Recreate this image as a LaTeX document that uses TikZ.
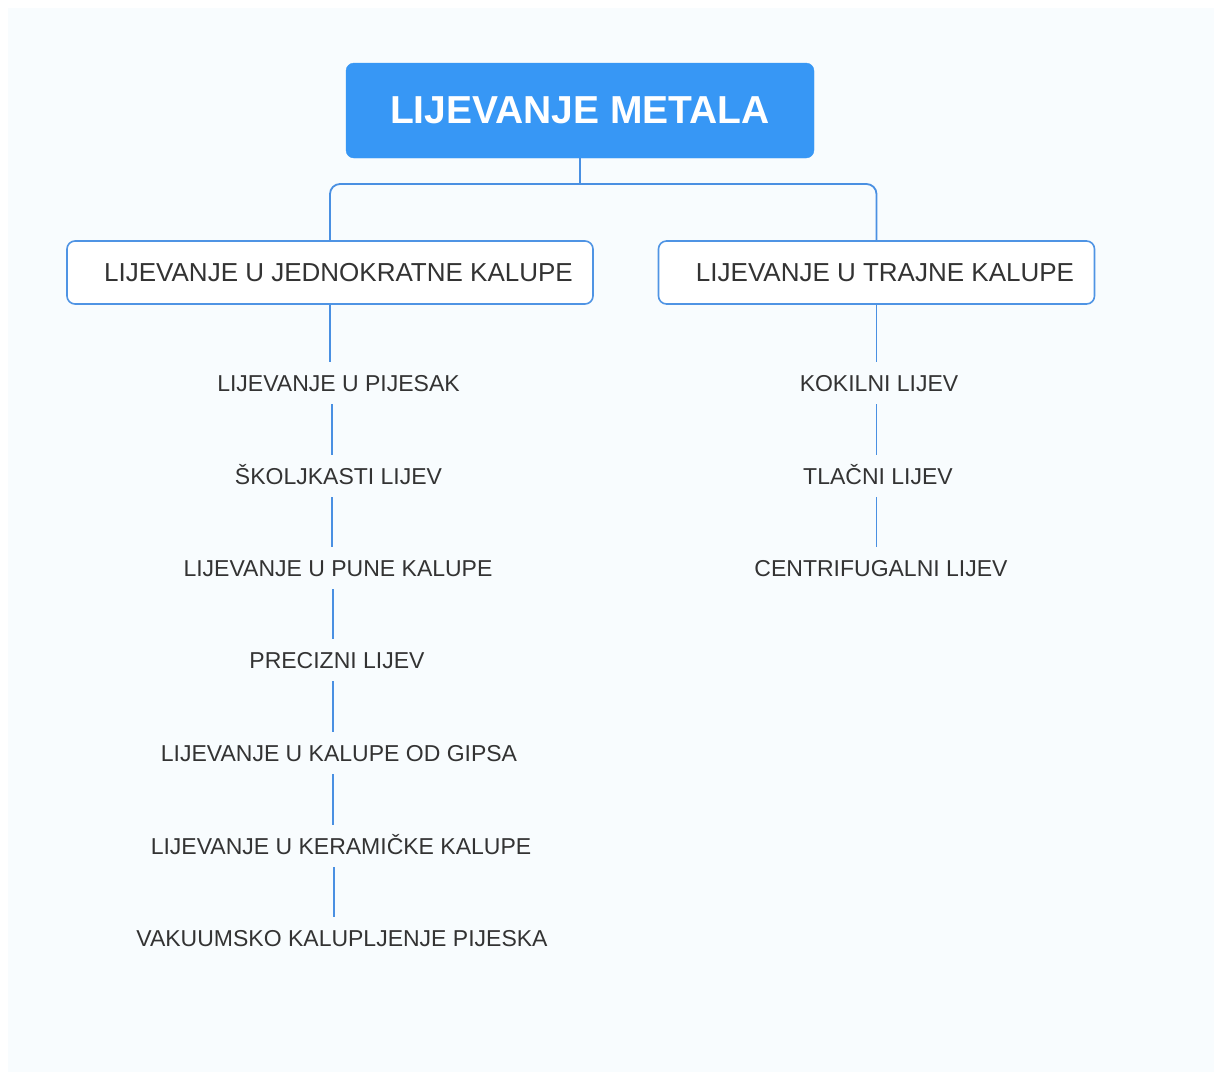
\documentclass[tikz,border=0pt]{standalone}
\usepackage{fontspec}
\setmainfont{Liberation Sans}
\definecolor{rootblue}{HTML}{3797F5}
\definecolor{edgeblue}{HTML}{4A90E2}
\definecolor{boxblue}{HTML}{4F94E4}
\definecolor{txt}{HTML}{333333}
\definecolor{panel}{HTML}{F8FCFE}
\begin{document}
\begin{tikzpicture}[x=1pt,y=-1pt,
  rootbox/.style={draw=rootblue, fill=rootblue, rounded corners=8pt, minimum width=468pt, minimum height=95pt,
     inner sep=0pt, text=white, font=\fontsize{39}{44}\selectfont\bfseries},
  catbox/.style={draw=boxblue, line width=1.6pt, fill=white, rounded corners=8pt, minimum height=63pt,
     inner sep=0pt, text=txt, font=\fontsize{26}{30}\selectfont},
  leaf/.style={text=txt, font=\fontsize{23}{27}\selectfont, text height=16.5pt, text depth=0pt, inner xsep=2pt, inner ysep=13pt},
  conn/.style={draw=edgeblue, line width=1.8pt}
]
\useasboundingbox (0,0) rectangle (1214,1072);
\fill[white] (0,0) rectangle (1214,1072);
\fill[panel] (8,8) rectangle (1214,1072);

\node[rootbox] (root) at (580,110.5) {LIJEVANJE METALA};
\node[catbox, minimum width=526pt] (L) at (330,272.5) {\hspace*{17pt}LIJEVANJE U JEDNOKRATNE KALUPE};
\node[catbox, minimum width=436pt] (R) at (876.5,272.5) {\hspace*{17pt}LIJEVANJE U TRAJNE KALUPE};

\coordinate (j) at (580,184);
\draw[conn] (root.south) -- (j);
\draw[conn, rounded corners=10pt] (L.north) |- (j) -| (R.north);

\node[leaf] (a1) at (338.5,383) {LIJEVANJE U PIJESAK};
\node[leaf] (a2) at (338.5,476) {ŠKOLJKASTI LIJEV};
\node[leaf] (a3) at (338,568) {LIJEVANJE U PUNE KALUPE};
\node[leaf] (a4) at (337,660) {PRECIZNI LIJEV};
\node[leaf] (a5) at (339,753) {LIJEVANJE U KALUPE OD GIPSA};
\node[leaf] (a6) at (341,846) {LIJEVANJE U KERAMIČKE KALUPE};
\node[leaf] (a7) at (342,938) {VAKUUMSKO KALUPLJENJE PIJESKA};

\node[leaf] (b1) at (879,383) {KOKILNI LIJEV};
\node[leaf] (b2) at (878,476) {TLAČNI LIJEV};
\node[leaf] (b3) at (881,568) {CENTRIFUGALNI LIJEV};

\draw[conn] (L.south) -- (L.south |- a1.north);
\draw[conn] ([xshift=2pt]a1.south -| L.south) -- ([xshift=2pt]a2.north -| L.south);
\draw[conn] ([xshift=2pt]a2.south -| L.south) -- ([xshift=2pt]a3.north -| L.south);
\draw[conn] ([xshift=3pt]a3.south -| L.south) -- ([xshift=3pt]a4.north -| L.south);
\draw[conn] ([xshift=3pt]a4.south -| L.south) -- ([xshift=3pt]a5.north -| L.south);
\draw[conn] ([xshift=3pt]a5.south -| L.south) -- ([xshift=3pt]a6.north -| L.south);
\draw[conn] ([xshift=4pt]a6.south -| L.south) -- ([xshift=4pt]a7.north -| L.south);

\draw[conn] (R.south) -- (R.south |- b1.north);
\draw[conn] (b1.south -| R.south) -- (b2.north -| R.south);
\draw[conn] (b2.south -| R.south) -- (b3.north -| R.south);
\end{tikzpicture}
\end{document}
